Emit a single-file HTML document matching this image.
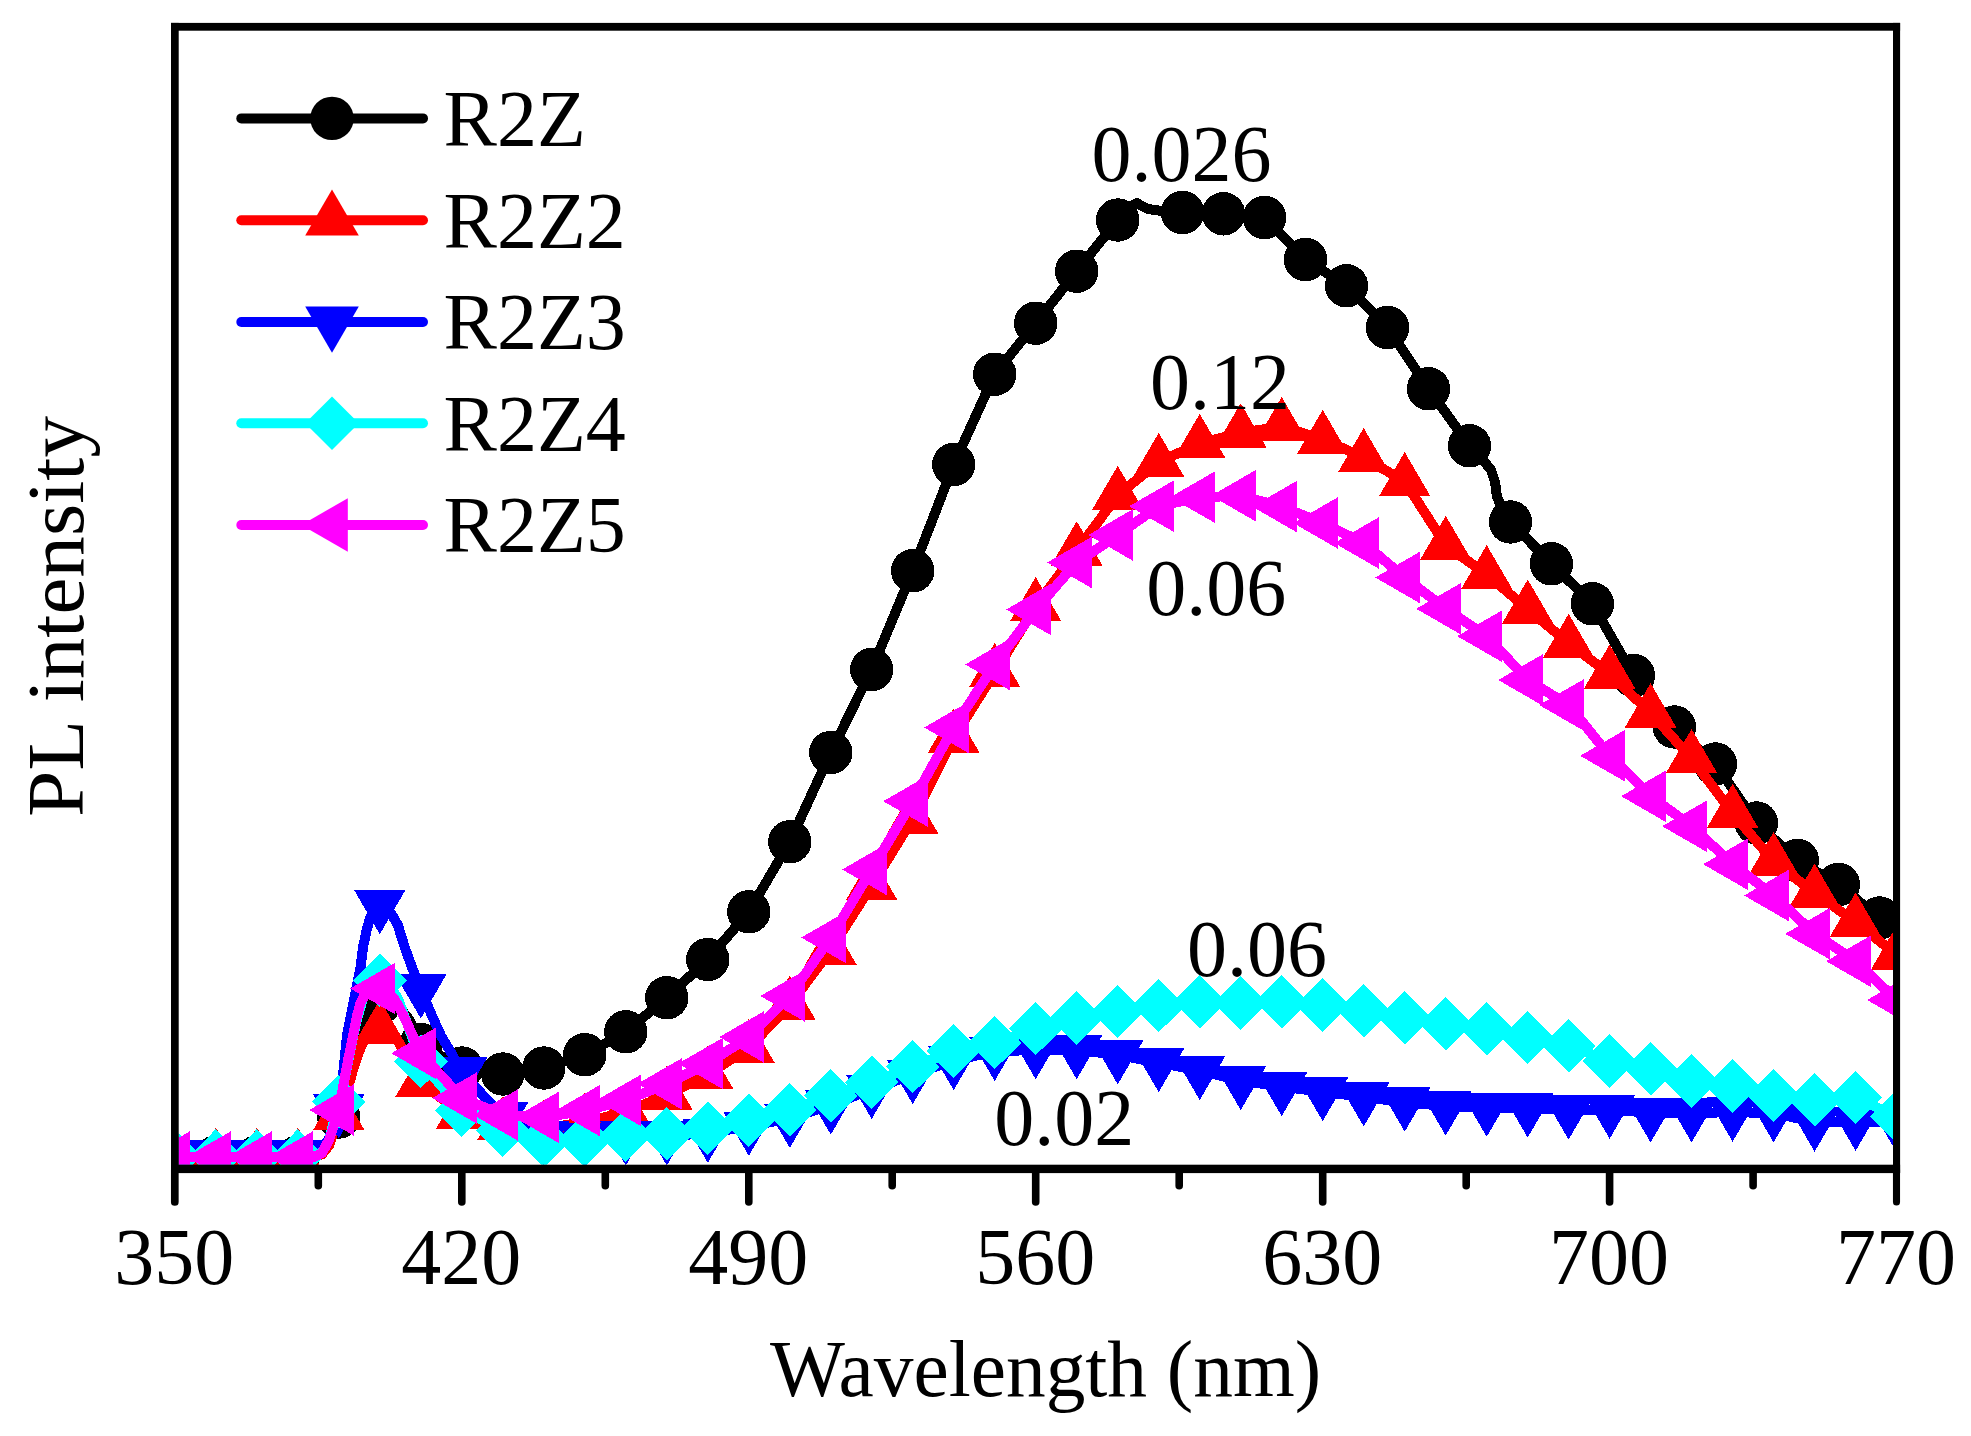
<!DOCTYPE html><html><head><meta charset="utf-8"><title>PL intensity</title><style>html,body{margin:0;padding:0;background:#fff}svg{display:block}text{font-family:"Liberation Serif",serif;font-size:80px;fill:#000}</style></head><body>
<svg width="1971" height="1436" viewBox="0 0 1971 1436">
<rect width="1971" height="1436" fill="#fff"/>
<defs><clipPath id="c"><rect x="178.7" y="30.7" width="1714.3" height="1134"/></clipPath></defs>
<g clip-path="url(#c)" shape-rendering="crispEdges">
<path d="M174.8 1157 L215.8 1157 L256.8 1157 L297.8 1157 L314 1157 L322 1153.9 L329 1143.1 L338.8 1117 L344 1092.3 L348.5 1072.3 L353 1052.3 L357.5 1035.3 L362 1021.5 L367 1010.7 L373 1004.5 L379.8 1003 L388.8 1003 L397.8 1005.1 L409.8 1020.4 L420.8 1044.5 L461.8 1068 L502.8 1074 L543.8 1068 L584.8 1054.7 L625.8 1031.8 L666.8 997.7 L707.8 959.5 L748.8 911.8 L789.8 841.8 L830.8 752.5 L871.7 669.5 L912.7 570.8 L953.7 464.5 L994.7 374.2 L1035.7 323.2 L1076.7 271.2 L1117.7 220 L1128 208 L1134 204.5 L1137 203 L1141 205.5 L1148 209 L1165 211.5 L1182.5 212.5 L1223.5 213.8 L1264.5 217.5 L1305.5 259.5 L1346.5 285.8 L1387.5 327.5 L1428.5 388.8 L1469.5 445.8 L1483 460 L1491 470 L1495 482 L1497 497 L1501 506 L1510.5 522 L1551.4 563.8 L1592.4 603.8 L1633.4 675.5 L1674.4 727 L1715.4 764 L1756.4 823 L1797.4 860.5 L1838.4 884.5 L1879.4 918 L1900 935" fill="none" stroke="#000" stroke-width="10" stroke-linejoin="round" stroke-linecap="round"/>
<circle cx="174.8" cy="1157" r="21.7" fill="#000"/>
<circle cx="215.8" cy="1157" r="21.7" fill="#000"/>
<circle cx="256.8" cy="1157" r="21.7" fill="#000"/>
<circle cx="297.8" cy="1157" r="21.7" fill="#000"/>
<circle cx="338.8" cy="1117" r="21.7" fill="#000"/>
<circle cx="379.8" cy="1003" r="21.7" fill="#000"/>
<circle cx="420.8" cy="1044.5" r="21.7" fill="#000"/>
<circle cx="461.8" cy="1068" r="21.7" fill="#000"/>
<circle cx="502.8" cy="1074" r="21.7" fill="#000"/>
<circle cx="543.8" cy="1068" r="21.7" fill="#000"/>
<circle cx="584.8" cy="1054.7" r="21.7" fill="#000"/>
<circle cx="625.8" cy="1031.8" r="21.7" fill="#000"/>
<circle cx="666.8" cy="997.7" r="21.7" fill="#000"/>
<circle cx="707.8" cy="959.5" r="21.7" fill="#000"/>
<circle cx="748.8" cy="911.8" r="21.7" fill="#000"/>
<circle cx="789.8" cy="841.8" r="21.7" fill="#000"/>
<circle cx="830.8" cy="752.5" r="21.7" fill="#000"/>
<circle cx="871.7" cy="669.5" r="21.7" fill="#000"/>
<circle cx="912.7" cy="570.8" r="21.7" fill="#000"/>
<circle cx="953.7" cy="464.5" r="21.7" fill="#000"/>
<circle cx="994.7" cy="374.2" r="21.7" fill="#000"/>
<circle cx="1035.7" cy="323.2" r="21.7" fill="#000"/>
<circle cx="1076.7" cy="271.2" r="21.7" fill="#000"/>
<circle cx="1117.7" cy="220" r="21.7" fill="#000"/>
<circle cx="1182.5" cy="212.5" r="21.7" fill="#000"/>
<circle cx="1223.5" cy="213.8" r="21.7" fill="#000"/>
<circle cx="1264.5" cy="217.5" r="21.7" fill="#000"/>
<circle cx="1305.5" cy="259.5" r="21.7" fill="#000"/>
<circle cx="1346.5" cy="285.8" r="21.7" fill="#000"/>
<circle cx="1387.5" cy="327.5" r="21.7" fill="#000"/>
<circle cx="1428.5" cy="388.8" r="21.7" fill="#000"/>
<circle cx="1469.5" cy="445.8" r="21.7" fill="#000"/>
<circle cx="1510.5" cy="522" r="21.7" fill="#000"/>
<circle cx="1551.4" cy="563.8" r="21.7" fill="#000"/>
<circle cx="1592.4" cy="603.8" r="21.7" fill="#000"/>
<circle cx="1633.4" cy="675.5" r="21.7" fill="#000"/>
<circle cx="1674.4" cy="727" r="21.7" fill="#000"/>
<circle cx="1715.4" cy="764" r="21.7" fill="#000"/>
<circle cx="1756.4" cy="823" r="21.7" fill="#000"/>
<circle cx="1797.4" cy="860.5" r="21.7" fill="#000"/>
<circle cx="1838.4" cy="884.5" r="21.7" fill="#000"/>
<circle cx="1879.4" cy="918" r="21.7" fill="#000"/>
<path d="M174.8 1157 L215.8 1157 L256.8 1157 L297.8 1157 L314 1157 L322 1154.4 L329 1145.5 L338.8 1115.4 L344 1103.2 L348.5 1086.6 L353 1070 L357.5 1055.9 L362 1044.4 L367 1035.4 L373 1030.3 L379.8 1029 L388.8 1031.1 L397.8 1040.8 L409.8 1062.2 L420.8 1082.5 L461.8 1114 L502.8 1125.5 L543.8 1128.6 L584.8 1122 L625.8 1112 L666.8 1095 L707.8 1074.5 L748.8 1047.8 L789.8 1005 L830.8 949.8 L871.7 885.3 L912.7 819 L953.7 737.8 L994.7 672.5 L1035.7 606.5 L1076.7 550.8 L1117.7 495.2 L1158.7 462.2 L1199.7 443.2 L1240.7 432.8 L1281.7 426.5 L1322.7 439.2 L1363.7 457.5 L1404.7 481.5 L1445.7 545.2 L1486.7 574.5 L1527.7 609 L1568.6 643.2 L1609.6 674 L1650.6 712.8 L1691.6 758.5 L1732.6 813.2 L1773.6 861.5 L1814.6 893 L1855.6 922 L1896.6 955" fill="none" stroke="#f00" stroke-width="10" stroke-linejoin="round" stroke-linecap="round"/>
<polygon points="174.8,1127.5 200.7,1171.8 149,1171.8" fill="#f00"/>
<polygon points="215.8,1127.5 241.6,1171.8 190,1171.8" fill="#f00"/>
<polygon points="256.8,1127.5 282.6,1171.8 231,1171.8" fill="#f00"/>
<polygon points="297.8,1127.5 323.6,1171.8 272,1171.8" fill="#f00"/>
<polygon points="338.8,1085.9 364.6,1130.2 313,1130.2" fill="#f00"/>
<polygon points="379.8,999.5 405.6,1043.8 354,1043.8" fill="#f00"/>
<polygon points="420.8,1053 446.6,1097.3 395,1097.3" fill="#f00"/>
<polygon points="461.8,1084.5 487.6,1128.8 436,1128.8" fill="#f00"/>
<polygon points="502.8,1096 528.6,1140.3 477,1140.3" fill="#f00"/>
<polygon points="543.8,1099.1 569.6,1143.4 518,1143.4" fill="#f00"/>
<polygon points="584.8,1092.5 610.6,1136.8 559,1136.8" fill="#f00"/>
<polygon points="625.8,1082.5 651.6,1126.8 600,1126.8" fill="#f00"/>
<polygon points="666.8,1065.5 692.6,1109.8 641,1109.8" fill="#f00"/>
<polygon points="707.8,1045 733.6,1089.3 682,1089.3" fill="#f00"/>
<polygon points="748.8,1018.3 774.6,1062.6 723,1062.6" fill="#f00"/>
<polygon points="789.8,975.5 815.6,1019.8 764,1019.8" fill="#f00"/>
<polygon points="830.8,920.3 856.6,964.6 805,964.6" fill="#f00"/>
<polygon points="871.7,855.8 897.5,900.1 845.9,900.1" fill="#f00"/>
<polygon points="912.7,789.5 938.5,833.8 886.9,833.8" fill="#f00"/>
<polygon points="953.7,708.3 979.5,752.6 927.9,752.6" fill="#f00"/>
<polygon points="994.7,643 1020.5,687.3 968.9,687.3" fill="#f00"/>
<polygon points="1035.7,577 1061.5,621.3 1009.9,621.3" fill="#f00"/>
<polygon points="1076.7,521.2 1102.5,565.5 1050.9,565.5" fill="#f00"/>
<polygon points="1117.7,465.8 1143.5,510.1 1091.9,510.1" fill="#f00"/>
<polygon points="1158.7,432.8 1184.5,477.1 1132.9,477.1" fill="#f00"/>
<polygon points="1199.7,413.8 1225.5,458.1 1173.9,458.1" fill="#f00"/>
<polygon points="1240.7,403.2 1266.5,447.6 1214.9,447.6" fill="#f00"/>
<polygon points="1281.7,397 1307.5,441.3 1255.9,441.3" fill="#f00"/>
<polygon points="1322.7,409.8 1348.5,454.1 1296.9,454.1" fill="#f00"/>
<polygon points="1363.7,428 1389.5,472.3 1337.9,472.3" fill="#f00"/>
<polygon points="1404.7,452 1430.5,496.3 1378.9,496.3" fill="#f00"/>
<polygon points="1445.7,515.8 1471.5,560 1419.9,560" fill="#f00"/>
<polygon points="1486.7,545 1512.5,589.3 1460.9,589.3" fill="#f00"/>
<polygon points="1527.7,579.5 1553.5,623.8 1501.9,623.8" fill="#f00"/>
<polygon points="1568.6,613.8 1594.4,658 1542.8,658" fill="#f00"/>
<polygon points="1609.6,644.5 1635.4,688.8 1583.8,688.8" fill="#f00"/>
<polygon points="1650.6,683.2 1676.4,727.5 1624.8,727.5" fill="#f00"/>
<polygon points="1691.6,729 1717.4,773.3 1665.8,773.3" fill="#f00"/>
<polygon points="1732.6,783.8 1758.4,828 1706.8,828" fill="#f00"/>
<polygon points="1773.6,832 1799.4,876.3 1747.8,876.3" fill="#f00"/>
<polygon points="1814.6,863.5 1840.4,907.8 1788.8,907.8" fill="#f00"/>
<polygon points="1855.6,892.5 1881.4,936.8 1829.8,936.8" fill="#f00"/>
<polygon points="1896.6,925.5 1922.4,969.8 1870.8,969.8" fill="#f00"/>
<path d="M174.8 1155 L215.8 1155 L256.8 1155 L297.8 1155 L314 1155 L322 1151 L329 1138 L339 1109 L343 1075 L346.9 1036 L354 1000 L360.3 969 L363.1 947 L366.6 930 L369.8 919 L374 909 L379.6 904.7 L386 908 L392 915 L397.7 924.6 L404.6 947 L412.7 969.3 L420.5 989 L431.2 1014 L441.2 1036.3 L452 1054 L461.5 1072 L502.8 1116.5 L543.8 1135.7 L584.8 1138 L625.8 1136 L666.8 1136 L707.8 1133.3 L748.8 1126.3 L789.8 1118.5 L830.8 1105.1 L871.7 1089.5 L912.7 1074.6 L953.7 1060.7 L994.7 1051.5 L1035.7 1049.8 L1076.7 1049.8 L1117.7 1054.9 L1158.7 1062.7 L1199.7 1070.6 L1240.7 1080.6 L1281.7 1086.7 L1322.7 1091.7 L1363.7 1097 L1404.7 1102.2 L1445.7 1106.1 L1486.7 1107.3 L1527.7 1108.1 L1568.6 1110.1 L1609.6 1109.3 L1650.6 1113 L1691.6 1113 L1732.6 1112.2 L1773.6 1113 L1814.6 1122.2 L1855.6 1121.4 L1896.6 1123" fill="none" stroke="#00f" stroke-width="10" stroke-linejoin="round" stroke-linecap="round"/>
<polygon points="174.8,1184.5 200.7,1140.2 149,1140.2" fill="#00f"/>
<polygon points="215.8,1184.5 241.6,1140.2 190,1140.2" fill="#00f"/>
<polygon points="256.8,1184.5 282.6,1140.2 231,1140.2" fill="#00f"/>
<polygon points="297.8,1184.5 323.6,1140.2 272,1140.2" fill="#00f"/>
<polygon points="338.8,1138.5 364.6,1094.2 313,1094.2" fill="#00f"/>
<polygon points="379.8,934.2 405.6,889.9 354,889.9" fill="#00f"/>
<polygon points="420.8,1018.5 446.6,974.2 395,974.2" fill="#00f"/>
<polygon points="461.8,1101.5 487.6,1057.2 436,1057.2" fill="#00f"/>
<polygon points="502.8,1146 528.6,1101.7 477,1101.7" fill="#00f"/>
<polygon points="543.8,1165.2 569.6,1120.9 518,1120.9" fill="#00f"/>
<polygon points="584.8,1167.5 610.6,1123.2 559,1123.2" fill="#00f"/>
<polygon points="625.8,1165.5 651.6,1121.2 600,1121.2" fill="#00f"/>
<polygon points="666.8,1165.5 692.6,1121.2 641,1121.2" fill="#00f"/>
<polygon points="707.8,1162.8 733.6,1118.5 682,1118.5" fill="#00f"/>
<polygon points="748.8,1155.8 774.6,1111.5 723,1111.5" fill="#00f"/>
<polygon points="789.8,1148 815.6,1103.7 764,1103.7" fill="#00f"/>
<polygon points="830.8,1134.6 856.6,1090.3 805,1090.3" fill="#00f"/>
<polygon points="871.7,1119 897.5,1074.7 845.9,1074.7" fill="#00f"/>
<polygon points="912.7,1104.1 938.5,1059.8 886.9,1059.8" fill="#00f"/>
<polygon points="953.7,1090.2 979.5,1045.9 927.9,1045.9" fill="#00f"/>
<polygon points="994.7,1081 1020.5,1036.7 968.9,1036.7" fill="#00f"/>
<polygon points="1035.7,1079.3 1061.5,1035 1009.9,1035" fill="#00f"/>
<polygon points="1076.7,1079.3 1102.5,1035 1050.9,1035" fill="#00f"/>
<polygon points="1117.7,1084.4 1143.5,1040.1 1091.9,1040.1" fill="#00f"/>
<polygon points="1158.7,1092.2 1184.5,1047.9 1132.9,1047.9" fill="#00f"/>
<polygon points="1199.7,1100.1 1225.5,1055.8 1173.9,1055.8" fill="#00f"/>
<polygon points="1240.7,1110.1 1266.5,1065.8 1214.9,1065.8" fill="#00f"/>
<polygon points="1281.7,1116.2 1307.5,1071.9 1255.9,1071.9" fill="#00f"/>
<polygon points="1322.7,1121.2 1348.5,1076.9 1296.9,1076.9" fill="#00f"/>
<polygon points="1363.7,1126.5 1389.5,1082.2 1337.9,1082.2" fill="#00f"/>
<polygon points="1404.7,1131.7 1430.5,1087.4 1378.9,1087.4" fill="#00f"/>
<polygon points="1445.7,1135.6 1471.5,1091.3 1419.9,1091.3" fill="#00f"/>
<polygon points="1486.7,1136.8 1512.5,1092.5 1460.9,1092.5" fill="#00f"/>
<polygon points="1527.7,1137.6 1553.5,1093.3 1501.9,1093.3" fill="#00f"/>
<polygon points="1568.6,1139.6 1594.4,1095.3 1542.8,1095.3" fill="#00f"/>
<polygon points="1609.6,1138.8 1635.4,1094.5 1583.8,1094.5" fill="#00f"/>
<polygon points="1650.6,1142.5 1676.4,1098.2 1624.8,1098.2" fill="#00f"/>
<polygon points="1691.6,1142.5 1717.4,1098.2 1665.8,1098.2" fill="#00f"/>
<polygon points="1732.6,1141.7 1758.4,1097.4 1706.8,1097.4" fill="#00f"/>
<polygon points="1773.6,1142.5 1799.4,1098.2 1747.8,1098.2" fill="#00f"/>
<polygon points="1814.6,1151.7 1840.4,1107.4 1788.8,1107.4" fill="#00f"/>
<polygon points="1855.6,1150.9 1881.4,1106.6 1829.8,1106.6" fill="#00f"/>
<polygon points="1896.6,1152.5 1922.4,1108.2 1870.8,1108.2" fill="#00f"/>
<path d="M174.8 1156 L215.8 1156 L256.8 1156 L297.8 1156 L314 1156 L322 1152.5 L329 1140.2 L338.8 1101.8 L344 1082.3 L348.5 1059.5 L353 1036.7 L357.5 1017.4 L362 1001.6 L367 989.3 L373 982.3 L379.8 980.5 L388.8 983.7 L397.8 998.3 L409.8 1030.7 L420.8 1061.5 L461.8 1110.2 L502.8 1130.3 L543.8 1140.8 L584.8 1140 L625.8 1135.5 L666.8 1133.8 L707.8 1128.5 L748.8 1120.5 L789.8 1109.6 L830.8 1095.7 L871.7 1082.3 L912.7 1066.6 L953.7 1051 L994.7 1042.6 L1035.7 1028.6 L1076.7 1018 L1117.7 1011.5 L1158.7 1005.6 L1199.7 1001.8 L1240.7 1003 L1281.7 1001.8 L1322.7 1005 L1363.7 1010.7 L1404.7 1017.9 L1445.7 1023.7 L1486.7 1028.7 L1527.7 1037.6 L1568.6 1045.8 L1609.6 1060.9 L1650.6 1068.7 L1691.6 1080.9 L1732.6 1085.9 L1773.6 1095.6 L1814.6 1099.8 L1855.6 1097.6 L1896.6 1116.5" fill="none" stroke="#0ff" stroke-width="10" stroke-linejoin="round" stroke-linecap="round"/>
<polygon points="174.8,1129.2 201.6,1156 174.8,1182.8 148.1,1156" fill="#0ff"/>
<polygon points="215.8,1129.2 242.6,1156 215.8,1182.8 189.1,1156" fill="#0ff"/>
<polygon points="256.8,1129.2 283.6,1156 256.8,1182.8 230.1,1156" fill="#0ff"/>
<polygon points="297.8,1129.2 324.6,1156 297.8,1182.8 271.1,1156" fill="#0ff"/>
<polygon points="338.8,1075 365.6,1101.8 338.8,1128.5 312.1,1101.8" fill="#0ff"/>
<polygon points="379.8,953.8 406.6,980.5 379.8,1007.2 353.1,980.5" fill="#0ff"/>
<polygon points="420.8,1034.8 447.6,1061.5 420.8,1088.2 394.1,1061.5" fill="#0ff"/>
<polygon points="461.8,1083.5 488.6,1110.2 461.8,1137 435.1,1110.2" fill="#0ff"/>
<polygon points="502.8,1103.5 529.6,1130.3 502.8,1157 476.1,1130.3" fill="#0ff"/>
<polygon points="543.8,1114 570.5,1140.8 543.8,1167.5 517,1140.8" fill="#0ff"/>
<polygon points="584.8,1113.2 611.5,1140 584.8,1166.8 558,1140" fill="#0ff"/>
<polygon points="625.8,1108.8 652.5,1135.5 625.8,1162.2 599,1135.5" fill="#0ff"/>
<polygon points="666.8,1107 693.5,1133.8 666.8,1160.5 640,1133.8" fill="#0ff"/>
<polygon points="707.8,1101.8 734.5,1128.5 707.8,1155.2 681,1128.5" fill="#0ff"/>
<polygon points="748.8,1093.8 775.5,1120.5 748.8,1147.2 722,1120.5" fill="#0ff"/>
<polygon points="789.8,1082.8 816.5,1109.6 789.8,1136.3 763,1109.6" fill="#0ff"/>
<polygon points="830.8,1069 857.5,1095.7 830.8,1122.5 804,1095.7" fill="#0ff"/>
<polygon points="871.7,1055.5 898.5,1082.3 871.7,1109 845,1082.3" fill="#0ff"/>
<polygon points="912.7,1039.8 939.5,1066.6 912.7,1093.3 886,1066.6" fill="#0ff"/>
<polygon points="953.7,1024.2 980.5,1051 953.7,1077.8 927,1051" fill="#0ff"/>
<polygon points="994.7,1015.8 1021.5,1042.6 994.7,1069.3 968,1042.6" fill="#0ff"/>
<polygon points="1035.7,1001.8 1062.5,1028.6 1035.7,1055.3 1009,1028.6" fill="#0ff"/>
<polygon points="1076.7,991.2 1103.5,1018 1076.7,1044.8 1050,1018" fill="#0ff"/>
<polygon points="1117.7,984.8 1144.5,1011.5 1117.7,1038.2 1091,1011.5" fill="#0ff"/>
<polygon points="1158.7,978.9 1185.5,1005.6 1158.7,1032.3 1132,1005.6" fill="#0ff"/>
<polygon points="1199.7,975 1226.4,1001.8 1199.7,1028.5 1172.9,1001.8" fill="#0ff"/>
<polygon points="1240.7,976.2 1267.4,1003 1240.7,1029.8 1213.9,1003" fill="#0ff"/>
<polygon points="1281.7,975 1308.4,1001.8 1281.7,1028.5 1254.9,1001.8" fill="#0ff"/>
<polygon points="1322.7,978.2 1349.4,1005 1322.7,1031.8 1295.9,1005" fill="#0ff"/>
<polygon points="1363.7,984 1390.4,1010.7 1363.7,1037.5 1336.9,1010.7" fill="#0ff"/>
<polygon points="1404.7,991.1 1431.4,1017.9 1404.7,1044.7 1377.9,1017.9" fill="#0ff"/>
<polygon points="1445.7,997 1472.4,1023.7 1445.7,1050.5 1418.9,1023.7" fill="#0ff"/>
<polygon points="1486.7,1002 1513.4,1028.7 1486.7,1055.5 1459.9,1028.7" fill="#0ff"/>
<polygon points="1527.7,1010.8 1554.4,1037.6 1527.7,1064.3 1500.9,1037.6" fill="#0ff"/>
<polygon points="1568.6,1019 1595.4,1045.8 1568.6,1072.5 1541.9,1045.8" fill="#0ff"/>
<polygon points="1609.6,1034.2 1636.4,1060.9 1609.6,1087.7 1582.9,1060.9" fill="#0ff"/>
<polygon points="1650.6,1042 1677.4,1068.7 1650.6,1095.5 1623.9,1068.7" fill="#0ff"/>
<polygon points="1691.6,1054.2 1718.4,1080.9 1691.6,1107.7 1664.9,1080.9" fill="#0ff"/>
<polygon points="1732.6,1059.2 1759.4,1085.9 1732.6,1112.7 1705.9,1085.9" fill="#0ff"/>
<polygon points="1773.6,1068.8 1800.4,1095.6 1773.6,1122.3 1746.9,1095.6" fill="#0ff"/>
<polygon points="1814.6,1073 1841.4,1099.8 1814.6,1126.5 1787.9,1099.8" fill="#0ff"/>
<polygon points="1855.6,1070.8 1882.4,1097.6 1855.6,1124.3 1828.9,1097.6" fill="#0ff"/>
<polygon points="1896.6,1089.8 1923.3,1116.5 1896.6,1143.2 1869.8,1116.5" fill="#0ff"/>
<path d="M174.8 1157 L215.8 1157 L256.8 1157 L297.8 1157 L313.6 1157 L322 1153 L329 1140 L339 1110 L344 1082 L348.5 1058 L353 1036 L357.5 1014 L360.5 1003 L366 993 L372 989.5 L379.5 988.5 L388 992 L395 1000 L402.7 1014 L410.5 1030.7 L420.5 1053.3 L461.8 1098 L502.8 1115 L543.8 1117.4 L584.8 1110.7 L625.8 1100.3 L666.8 1083.9 L707.8 1063.5 L748.8 1037 L789.8 996 L830.8 937.5 L871.7 869.5 L912.7 801.2 L953.7 727.5 L994.7 664.5 L1035.7 609.5 L1076.7 562.5 L1117.7 535 L1158.7 506.2 L1199.7 497.2 L1240.7 495.8 L1281.7 506.6 L1322.7 523 L1363.7 543 L1404.7 577.5 L1445.7 608.8 L1486.7 636.2 L1527.7 680 L1568.6 705 L1609.6 755.8 L1650.6 796.2 L1691.6 826.2 L1732.6 864.2 L1773.6 895.5 L1814.6 933.8 L1855.6 961.2 L1896.6 1000" fill="none" stroke="#f0f" stroke-width="10" stroke-linejoin="round" stroke-linecap="round"/>
<polygon points="145.3,1157 190,1131.2 190,1182.8" fill="#f0f"/>
<polygon points="186.3,1157 231,1131.2 231,1182.8" fill="#f0f"/>
<polygon points="227.3,1157 272,1131.2 272,1182.8" fill="#f0f"/>
<polygon points="268.3,1157 313,1131.2 313,1182.8" fill="#f0f"/>
<polygon points="309.3,1110 354,1084.2 354,1135.8" fill="#f0f"/>
<polygon points="350.3,988.5 395,962.7 395,1014.3" fill="#f0f"/>
<polygon points="391.3,1053.3 436,1027.5 436,1079.1" fill="#f0f"/>
<polygon points="432.3,1098 477,1072.2 477,1123.8" fill="#f0f"/>
<polygon points="473.3,1115 518,1089.2 518,1140.8" fill="#f0f"/>
<polygon points="514.3,1117.4 559,1091.6 559,1143.2" fill="#f0f"/>
<polygon points="555.3,1110.7 600,1084.9 600,1136.5" fill="#f0f"/>
<polygon points="596.3,1100.3 641,1074.5 641,1126.1" fill="#f0f"/>
<polygon points="637.3,1083.9 682,1058.1 682,1109.7" fill="#f0f"/>
<polygon points="678.3,1063.5 723,1037.7 723,1089.3" fill="#f0f"/>
<polygon points="719.3,1037 764,1011.2 764,1062.8" fill="#f0f"/>
<polygon points="760.3,996 805,970.2 805,1021.8" fill="#f0f"/>
<polygon points="801.3,937.5 846,911.7 846,963.3" fill="#f0f"/>
<polygon points="842.2,869.5 886.9,843.7 886.9,895.3" fill="#f0f"/>
<polygon points="883.2,801.2 927.9,775.5 927.9,827" fill="#f0f"/>
<polygon points="924.2,727.5 968.9,701.7 968.9,753.3" fill="#f0f"/>
<polygon points="965.2,664.5 1009.9,638.7 1009.9,690.3" fill="#f0f"/>
<polygon points="1006.2,609.5 1050.9,583.7 1050.9,635.3" fill="#f0f"/>
<polygon points="1047.2,562.5 1091.9,536.7 1091.9,588.3" fill="#f0f"/>
<polygon points="1088.2,535 1132.9,509.2 1132.9,560.8" fill="#f0f"/>
<polygon points="1129.2,506.2 1173.9,480.4 1173.9,532" fill="#f0f"/>
<polygon points="1170.2,497.2 1214.9,471.4 1214.9,523" fill="#f0f"/>
<polygon points="1211.2,495.8 1255.9,469.9 1255.9,521.5" fill="#f0f"/>
<polygon points="1252.2,506.6 1296.9,480.8 1296.9,532.4" fill="#f0f"/>
<polygon points="1293.2,523 1337.9,497.2 1337.9,548.8" fill="#f0f"/>
<polygon points="1334.2,543 1378.9,517.2 1378.9,568.8" fill="#f0f"/>
<polygon points="1375.2,577.5 1419.9,551.7 1419.9,603.3" fill="#f0f"/>
<polygon points="1416.2,608.8 1460.9,583 1460.9,634.5" fill="#f0f"/>
<polygon points="1457.2,636.2 1501.9,610.5 1501.9,662" fill="#f0f"/>
<polygon points="1498.2,680 1542.9,654.2 1542.9,705.8" fill="#f0f"/>
<polygon points="1539.1,705 1583.8,679.2 1583.8,730.8" fill="#f0f"/>
<polygon points="1580.1,755.8 1624.8,730 1624.8,781.5" fill="#f0f"/>
<polygon points="1621.1,796.2 1665.8,770.5 1665.8,822" fill="#f0f"/>
<polygon points="1662.1,826.2 1706.8,800.5 1706.8,852" fill="#f0f"/>
<polygon points="1703.1,864.2 1747.8,838.5 1747.8,890" fill="#f0f"/>
<polygon points="1744.1,895.5 1788.8,869.7 1788.8,921.3" fill="#f0f"/>
<polygon points="1785.1,933.8 1829.8,908 1829.8,959.5" fill="#f0f"/>
<polygon points="1826.1,961.2 1870.8,935.5 1870.8,987" fill="#f0f"/>
<polygon points="1867.1,1000 1911.8,974.2 1911.8,1025.8" fill="#f0f"/>
</g>
<g fill="#000">
<rect x="171" y="22.9" width="1729.1" height="7.8"/>
<rect x="171" y="1164.7" width="1729.1" height="8.4"/>
<rect x="171" y="22.9" width="7.7" height="1150"/>
<rect x="1893" y="22.9" width="7.1" height="1150"/>
</g>
<g stroke="#000" stroke-linecap="round">
<line x1="174.8" y1="1170" x2="174.8" y2="1201.9" stroke-width="7.7"/>
<line x1="318.3" y1="1170" x2="318.3" y2="1185.7" stroke-width="7.6"/>
<line x1="461.8" y1="1170" x2="461.8" y2="1201.9" stroke-width="7.6"/>
<line x1="605.3" y1="1170" x2="605.3" y2="1185.7" stroke-width="7.6"/>
<line x1="748.8" y1="1170" x2="748.8" y2="1201.9" stroke-width="7.6"/>
<line x1="892.2" y1="1170" x2="892.2" y2="1185.7" stroke-width="7.6"/>
<line x1="1035.7" y1="1170" x2="1035.7" y2="1201.9" stroke-width="7.6"/>
<line x1="1179.2" y1="1170" x2="1179.2" y2="1185.7" stroke-width="7.6"/>
<line x1="1322.7" y1="1170" x2="1322.7" y2="1201.9" stroke-width="7.6"/>
<line x1="1466.2" y1="1170" x2="1466.2" y2="1185.7" stroke-width="7.6"/>
<line x1="1609.6" y1="1170" x2="1609.6" y2="1201.9" stroke-width="7.6"/>
<line x1="1753.1" y1="1170" x2="1753.1" y2="1185.7" stroke-width="7.6"/>
<line x1="1896.5" y1="1170" x2="1896.5" y2="1201.9" stroke-width="7.1"/>
</g>
<text x="174.3" y="1284" text-anchor="middle">350</text>
<text x="461.3" y="1284" text-anchor="middle">420</text>
<text x="748.3" y="1284" text-anchor="middle">490</text>
<text x="1035.2" y="1284" text-anchor="middle">560</text>
<text x="1322.2" y="1284" text-anchor="middle">630</text>
<text x="1609.1" y="1284" text-anchor="middle">700</text>
<text x="1896.1" y="1284" text-anchor="middle">770</text>
<text x="1045.6" y="1396" text-anchor="middle" textLength="551" lengthAdjust="spacingAndGlyphs">Wavelength (nm)</text>
<text transform="translate(83 616.5) rotate(-90)" text-anchor="middle" textLength="401" lengthAdjust="spacingAndGlyphs">PL intensity</text>
<line x1="241.3" y1="118.4" x2="423" y2="118.4" stroke="#000" stroke-width="10" stroke-linecap="round"/>
<circle cx="332" cy="118.4" r="21.7" fill="#000"/>
<text x="443.6" y="146.3">R2Z</text>
<line x1="241.3" y1="220.2" x2="423" y2="220.2" stroke="#f00" stroke-width="10" stroke-linecap="round"/>
<polygon points="332,189.5 358.8,235.6 305.2,235.6" fill="#f00"/>
<text x="443.6" y="247.7">R2Z2</text>
<line x1="241.3" y1="322" x2="423" y2="322" stroke="#00f" stroke-width="10" stroke-linecap="round"/>
<polygon points="332,352.7 358.8,306.6 305.2,306.6" fill="#00f"/>
<text x="443.6" y="349.1">R2Z3</text>
<line x1="241.3" y1="423.2" x2="423" y2="423.2" stroke="#0ff" stroke-width="10" stroke-linecap="round"/>
<polygon points="332,396.5 358.8,423.2 332,450 305.2,423.2" fill="#0ff"/>
<text x="443.6" y="450.5">R2Z4</text>
<line x1="241.3" y1="525" x2="423" y2="525" stroke="#f0f" stroke-width="10" stroke-linecap="round"/>
<polygon points="301.3,525 347.8,498.2 347.8,551.8" fill="#f0f"/>
<text x="443.6" y="551.8">R2Z5</text>
<text x="1091.5" y="181">0.026</text>
<text x="1150" y="408.5">0.12</text>
<text x="1146.3" y="615">0.06</text>
<text x="1187" y="976">0.06</text>
<text x="994.3" y="1144.6">0.02</text>
</svg></body></html>
